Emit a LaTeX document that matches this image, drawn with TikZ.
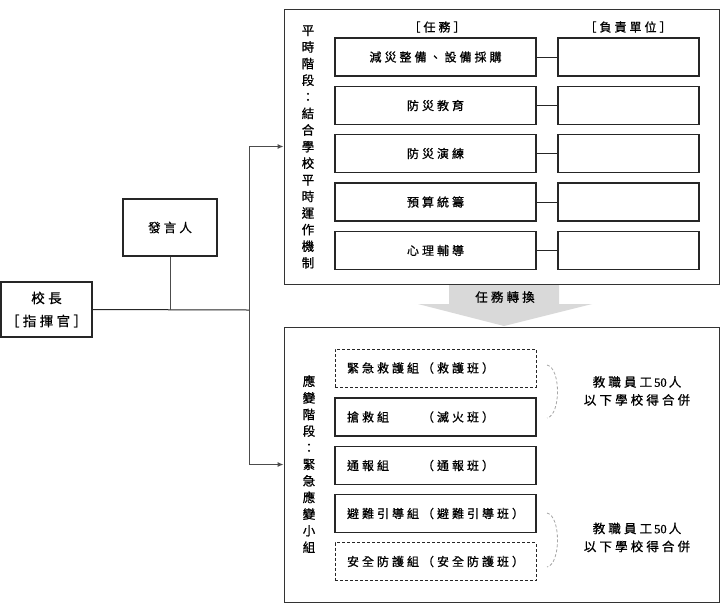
\documentclass[tikz,border=0pt]{standalone}
\usepackage{fontspec}
\setmainfont[FakeBold=0.8]{Noto Sans CJK TC}
\newfontfamily\cjk[LetterSpace=25,FakeBold=0.8]{Noto Sans CJK TC}
\newfontfamily\latinserif[FakeBold=0.8]{Liberation Serif}
\usetikzlibrary{arrows.meta}
\begin{document}
\begin{tikzpicture}[x=1pt,y=-1pt,
  box/.style={draw=black!85, line width=1.1pt, minimum height=38pt, inner sep=0pt},
  task/.style={box, minimum width=201pt, font=\cjk\fontsize{12}{14}\selectfont},
  unit/.style={box, minimum width=141pt},
  grp/.style={box, text width=177pt, inner xsep=12pt, inner ysep=0pt, align=left, font=\cjk\fontsize{12}{14}\selectfont},
  dashbox/.style={dash pattern=on 3pt off 2pt, line width=1pt},
  frame/.style={draw=black!80, line width=0.9pt, minimum width=435pt, minimum height=275pt, inner sep=0pt},
  vlabel/.style={align=center, font=\fontsize{12.5}{16.6}\selectfont},
  head/.style={font=\cjk\fontsize{12}{14}\selectfont},
  note/.style={align=center, font=\cjk\fontsize{12.5}{18}\selectfont},
  link/.style={draw=black!85, line width=1pt},
  brace/.style={draw=gray!70, densely dashed, line width=0.8pt},
  leftbox/.style={draw=black!85, line width=1.1pt, align=center, inner sep=0pt}
]
\useasboundingbox (0,0) rectangle (725,606);

% frames
\node[frame] (peace) at (501.5,146.5) {};
\node[frame] (resp) at (501.5,464.5) {};

% gray transition arrow
\fill[gray!30] (449,285) -- (559,285) -- (559,304) -- (592,304) -- (504,326) -- (418,304) -- (449,304) -- cycle;
\node[font=\cjk\fontsize{12.5}{14}\selectfont] (conv) at (505,297) {任務轉換};

% left side
\node[leftbox, minimum width=91pt, minimum height=55pt, font=\cjk\fontsize{13.5}{23}\selectfont] (boss) at (46.5,309.5) {校長\\［指揮官］};
\node[leftbox, minimum width=94pt, minimum height=57pt, font=\cjk\fontsize{12.5}{14}\selectfont] (spk) at (170,227.5) {發言人};
\coordinate (j) at (249,310);
\draw[link] (boss.east) -- (j);
\draw[link, draw=black!70] (spk.south) -- (spk.south |- j);
\draw[link, draw=black!70, -{Latex[length=6pt,width=5pt]}] (j) |- (peace.west);
\draw[link, draw=black!70, -{Latex[length=6pt,width=5pt]}] (j) |- (resp.west);

% top frame contents
\node[vlabel] (vl1) at (308,147) {平\\時\\階\\段\\：\\結\\合\\學\\校\\平\\時\\運\\作\\機\\制};
\node[head] (h1) at (437,27) {［任務］};
\node[head] (h2) at (628,27) {［負責單位］};

\node[task] (t1) at (435.5,57) {減災整備、設備採購};
\node[task] (t2) at (435.5,105.5) {防災教育};
\node[task] (t3) at (435.5,153.5) {防災演練};
\node[task] (t4) at (435.5,202) {預算統籌};
\node[task] (t5) at (435.5,250.5) {心理輔導};

\node[unit] (u1) at (628.5,57) {};
\node[unit] (u2) at (628.5,105.5) {};
\node[unit] (u3) at (628.5,153.5) {};
\node[unit] (u4) at (628.5,202) {};
\node[unit] (u5) at (628.5,250.5) {};

\foreach \i in {1,...,5} {\draw[link] (t\i.east) -- (u\i.west);}

% bottom frame contents
\node[vlabel] (vl2) at (309,464) {應\\變\\階\\段\\：\\緊\\急\\應\\變\\小\\組};
\node[grp, dashbox] (g1) at (435.5,368) {緊急救護組（救護班）};
\node[grp] (g2) at (435.5,417) {搶救組　　（滅火班）};
\node[grp] (g3) at (435.5,465.5) {通報組　　（通報班）};
\node[grp] (g4) at (435.5,513.5) {避難引導組（避難引導班）};
\node[grp, dashbox] (g5) at (435.5,561.5) {安全防護組（安全防護班）};

\coordinate (b1a) at (547,365);
\coordinate (b1b) at (547,418);
\coordinate (b2a) at (547,513);
\coordinate (b2b) at (547,567);
\draw[brace] (b1a) .. controls (561,368) and (561,415) .. (b1b);
\draw[brace] (b2a) .. controls (561,516) and (561,564) .. (b2b);

\node[note] (n1) at (637,391) {教職員工\,{\latinserif 50}\,人\\以下學校得合併};
\node[note] (n2) at (637,537.5) {教職員工\,{\latinserif 50}\,人\\以下學校得合併};
\end{tikzpicture}
\end{document}
